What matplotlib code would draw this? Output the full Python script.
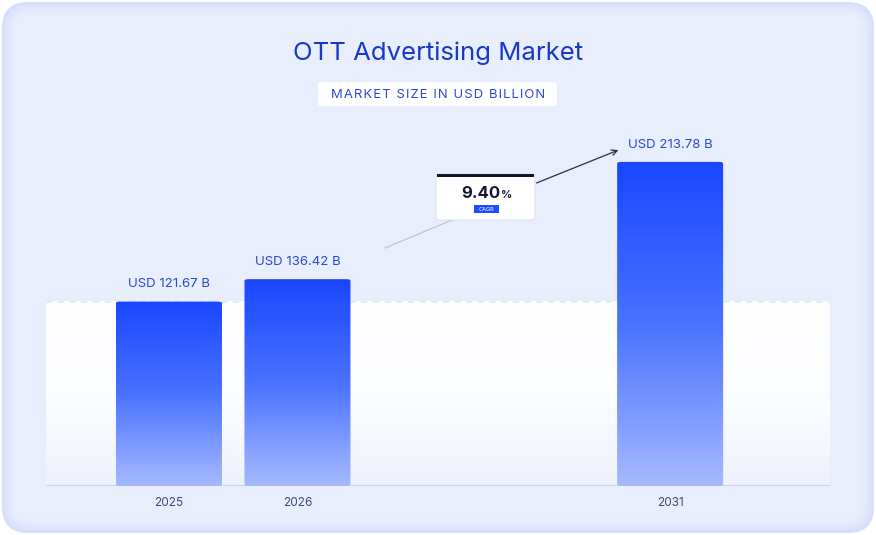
import numpy as np
import matplotlib.pyplot as plt
from matplotlib.patches import FancyBboxPatch, Rectangle
from matplotlib.colors import LinearSegmentedColormap

plt.rcParams['font.family'] = ['Inter', 'DejaVu Sans']

# data
years = ["2025", "2026", "2031"]
values = [121.67, 136.42, 213.78]
positions = [0, 1, 3.9]
cagr = "9.40"
title = "OTT Advertising Market"
subtitle = "MARKET SIZE IN USD BILLION"

W, H = 876, 535
fig = plt.figure(figsize=(W / 100, H / 100), dpi=100)
fig.patch.set_facecolor("white")

# card background with soft bluish edge
bg = fig.add_axes([0, 0, 1, 1])
bg.set_xlim(0, W)
bg.set_ylim(H, 0)
bg.axis("off")
for i, c in enumerate(["#d6dffb", "#dde4fb", "#e2e9fc", "#e6ecfc", "#e9eefc"]):
    pad = 2 + i * 3
    bg.add_patch(FancyBboxPatch((pad, pad), W - 2 * pad, H - 2 * pad,
                                boxstyle="round,pad=0,rounding_size=%d" % (26 - i * 2),
                                fc=c, ec="none"))

# title + subtitle
bg.text(438, 53, title, ha="center", va="center", fontsize=18.5, color="#1838c8")
bg.add_patch(FancyBboxPatch((318, 82), 239, 24, boxstyle="round,pad=0,rounding_size=3",
                            fc="white", ec="none"))
# spread letters a little, like the tracked caps of the original
spaced = "\u200a".join(subtitle)
bg.text(438, 95, spaced, ha="center", va="center", fontsize=9.4, color="#2a4ad2",
        family=["Inter", "DejaVu Sans"])

# main axes
ax = fig.add_axes([46 / W, 1 - 486 / H, (830 - 46) / W, (486 - 100) / H])
ax.axis("off")
ax.patch.set_alpha(0)

# white band up to first value
band_cmap = LinearSegmentedColormap.from_list("band", ["#ffffff", "#fcfdff", "#eef2fc"])
ax.imshow(np.linspace(0, 1, 100).reshape(-1, 1), cmap=band_cmap, aspect="auto",
          extent=(-0.957, 5.144, 0, values[0]), origin="upper", zorder=1)
ax.plot([-0.957, 5.144], [values[0], values[0]], color="#e2e8f7", lw=1.2,
        ls=(0, (4, 3)), zorder=2)
ax.plot([-0.957, 5.144], [0, 0], color="#cdd7f5", lw=1.5, zorder=2)

bar_cmap = LinearSegmentedColormap.from_list("bar", ["#1a47ff", "#4a72ff", "#a6b9ff"])
bw = 0.825
for x, v, yr in zip(positions, values, years):
    patch = FancyBboxPatch((x - bw / 2, 0), bw, v,
                           boxstyle="round,pad=0,rounding_size=0.03",
                           mutation_aspect=254.6 / 6.1 * 0.92,
                           fc="none", ec="none", zorder=3)
    ax.add_patch(patch)
    im = ax.imshow(np.linspace(0, 1, 200).reshape(-1, 1), cmap=bar_cmap, aspect="auto",
                   extent=(x - bw / 2, x + bw / 2, 0, v), origin="upper", zorder=3)
    im.set_clip_path(patch)
    ax.text(x, v + 7.5, "USD %.2f B" % v, ha="center", va="bottom", fontsize=9.5, color="#2a4ad2")
    ax.text(x, -7, yr, ha="center", va="top", fontsize=8.5, color="#3d4a78")
ax.set_ylim(0, 254.6)
ax.set_xlim(-0.957, 5.144)

# CAGR arrow (figure pixel coords on bg axes)
bg.plot([385, 452], [248, 220], color="#b9c1d4", lw=0.8, zorder=5)
bg.annotate("", xy=(621, 149), xytext=(534, 184),
            arrowprops=dict(arrowstyle="->", color="#2a2f45", lw=0.9), zorder=5)

# CAGR box
bg.add_patch(FancyBboxPatch((436, 174), 99, 46, boxstyle="round,pad=0,rounding_size=3",
                            fc="white", ec="#d6dbe8", lw=0.6, zorder=6))
bg.add_patch(Rectangle((437, 174), 97, 3, fc="#161632", ec="none", zorder=7))
bg.text(500, 193, cagr, ha="right", va="center", fontsize=12, fontweight="bold",
        color="#17172f", zorder=8)
bg.text(501, 194.5, "%", ha="left", va="center", fontsize=8, fontweight="bold",
        color="#17172f", zorder=8)
bg.add_patch(Rectangle((474, 205), 25, 8, fc="#1e4dff", ec="none", zorder=7))
bg.text(486.5, 209.2, "CAGR", ha="center", va="center", fontsize=4, color="white", zorder=8)

fig.savefig("out.png", dpi=100)
